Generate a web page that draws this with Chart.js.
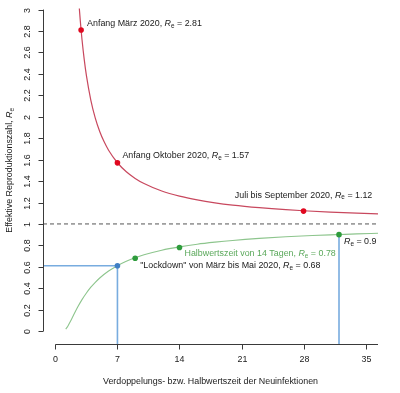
<!DOCTYPE html>
<html><head><meta charset="utf-8">
<script src="https://cdn.jsdelivr.net/npm/chart.js@4"></script>
<style>html,body{margin:0;padding:0;background:#fff}#wrap{width:400px;height:393px}</style>
</head><body><div id="wrap"><canvas id="c" width="400" height="393"></canvas></div>
<script>
// Doubling time (days) and effective reproduction number, red curve
const redT = [2.7, 2.8, 2.9, 3, 3.25, 3.5, 4, 4.5, 5, 5.5, 6, 7, 8, 9, 10, 12, 14, 16, 18, 20, 23, 26, 28, 31, 34, 36.4];
const redR = [3.01, 2.904, 2.808, 2.721, 2.535, 2.383, 2.154, 1.988, 1.863, 1.766, 1.688, 1.571, 1.487, 1.425, 1.377, 1.307, 1.259, 1.224, 1.197, 1.176, 1.152, 1.133, 1.123, 1.111, 1.101, 1.094];
// Half-life (days) and effective reproduction number, green curve
const greenT = [1.17, 1.4, 1.7, 2, 2.5, 3, 3.5, 4, 4.5, 5, 6, 7, 8, 9, 10, 12, 14, 16, 18, 20, 23, 26, 29, 32, 34, 36.4];
const greenR = [0.019, 0.046, 0.092, 0.141, 0.222, 0.294, 0.356, 0.410, 0.456, 0.496, 0.561, 0.611, 0.652, 0.685, 0.712, 0.755, 0.786, 0.811, 0.830, 0.846, 0.865, 0.880, 0.892, 0.901, 0.907, 0.913];
// Highlighted points
const redPtT = [2.9, 7, 28];
const redPtR = [2.81, 1.57, 1.12];
const greenPtT = [9, 14, 32];
const greenPtR = [0.68, 0.78, 0.9];
const bluePtT = [7];
const bluePtR = [0.61];
// Tick labels
const xTicks = [0, 7, 14, 21, 28, 35];
const yTicks = ["0", "0.2", "0.4", "0.6", "0.8", "1", "1.2", "1.4", "1.6", "1.8", "2", "2.2", "2.4", "2.6", "2.8", "3"];
// Texts
const xTitle = "Verdoppelungs- bzw. Halbwertszeit der Neuinfektionen";
const yTitlePre = "Effektive Reproduktionszahl, ";
const redLabels = ["Anfang März 2020, ", "Anfang Oktober 2020, ", "Juli bis September 2020, "];
const redLabelVals = ["2.81", "1.57", "1.12"];
const greenLabelText = "Halbwertszeit von 14 Tagen, ";
const greenLabelVal = "0.78";
const lockdownText = "\"Lockdown\" von März bis Mai 2020, ";
const lockdownVal = "0.68";
const endLabelVal = "0.9";

const XMIN = -1.4, XMAX = 36.4, YMIN = -0.12, YMAX = 3.052;
const FONT = "'Liberation Sans', Arial, sans-serif";
const FS = 8.9;

const pts = (xs, ys) => xs.map((x, i) => ({x, y: ys[i]}));

function rich(ctx, parts, x, y, align, color) {
  const fontFor = p => p.s === 'i' ? `italic ${FS}px ${FONT}` : p.s === 'sub' ? `${FS*0.72}px ${FONT}` : `${FS}px ${FONT}`;
  let w = 0;
  parts.forEach(p => { ctx.font = fontFor(p); w += ctx.measureText(p.t).width; });
  let cx = align === 'center' ? x - w/2 : align === 'right' ? x - w : x;
  ctx.fillStyle = color; ctx.textBaseline = 'middle'; ctx.textAlign = 'left';
  parts.forEach(p => {
    ctx.font = fontFor(p);
    ctx.fillText(p.t, cx, p.s === 'sub' ? y + FS*0.28 : y);
    cx += ctx.measureText(p.t).width;
  });
}
const Re = (pre, val) => [{t: pre, s: 'n'}, {t: 'R', s: 'i'}, {t: 'e', s: 'sub'}, {t: ' = ' + val, s: 'n'}];

const deco = {
  id: 'deco',
  afterDraw(chart) {
    const ctx = chart.ctx, xs = chart.scales.x, ys = chart.scales.y;
    const X = v => xs.getPixelForValue(v), Y = v => ys.getPixelForValue(v);
    const axCol = '#3a3a3a', txt = '#1a1a1a';
    ctx.save();
    ctx.strokeStyle = axCol; ctx.lineWidth = 1;
    // y axis
    const ax = Math.round(X(XMIN)) + 0.5;
    ctx.beginPath(); ctx.moveTo(ax, Y(0)); ctx.lineTo(ax, Y(3)); ctx.stroke();
    yTicks.forEach(t => {
      const py = Math.round(Y(parseFloat(t))) + 0.5;
      ctx.beginPath(); ctx.moveTo(ax, py); ctx.lineTo(ax - 5, py); ctx.stroke();
      ctx.save(); ctx.translate(28, py); ctx.rotate(-Math.PI/2);
      ctx.font = `${FS}px ${FONT}`; ctx.fillStyle = txt; ctx.textAlign = 'center'; ctx.textBaseline = 'middle';
      ctx.fillText(t, 0, 0); ctx.restore();
    });
    // x axis
    const ay = Math.round(Y(YMIN)) + 0.5;
    ctx.beginPath(); ctx.moveTo(X(0), ay); ctx.lineTo(X(XMAX), ay); ctx.stroke();
    xTicks.forEach(t => {
      const px = Math.round(X(t)) + 0.5;
      ctx.beginPath(); ctx.moveTo(px, ay); ctx.lineTo(px, ay + 5); ctx.stroke();
      ctx.font = `${FS}px ${FONT}`; ctx.fillStyle = txt; ctx.textAlign = 'center'; ctx.textBaseline = 'middle';
      ctx.fillText(String(t), px, 360);
    });
    // titles
    ctx.font = `${FS}px ${FONT}`; ctx.fillStyle = txt; ctx.textAlign = 'center'; ctx.textBaseline = 'middle';
    ctx.fillText(xTitle, (X(XMIN) + X(XMAX))/2, 382);
    ctx.save(); ctx.translate(10, (Y(0) + Y(3))/2); ctx.rotate(-Math.PI/2);
    rich(ctx, [{t: yTitlePre, s: 'n'}, {t: 'R', s: 'i'}, {t: 'e', s: 'sub'}], 0, 0, 'center', txt);
    ctx.restore();
    // annotations
    rich(ctx, Re(redLabels[0], redLabelVals[0]), X(redPtT[0]) + 6, Y(redPtR[0]) - 6, 'left', txt);
    rich(ctx, Re(redLabels[1], redLabelVals[1]), X(redPtT[1]) + 5, Y(redPtR[1]) - 7, 'left', txt);
    rich(ctx, Re(redLabels[2], redLabelVals[2]), X(redPtT[2]), Y(redPtR[2]) - 16, 'center', txt);
    rich(ctx, Re(greenLabelText, greenLabelVal), X(greenPtT[1]) + 5, Y(greenPtR[1]) + 6, 'left', '#5aa85a');
    rich(ctx, Re(lockdownText, lockdownVal), X(greenPtT[0]) + 5, Y(greenPtR[0]) + 7, 'left', txt);
    rich(ctx, [{t: 'R', s: 'i'}, {t: 'e', s: 'sub'}, {t: ' = ' + endLabelVal, s: 'n'}], X(greenPtT[2]) + 5, Y(greenPtR[2]) + 7, 'left', txt);
    ctx.restore();
  }
};

const lineDs = (data, color, width, extra) => Object.assign({type: 'line', data, borderColor: color, borderWidth: width, pointRadius: 0, fill: false, tension: 0}, extra || {});
const ptDs = (data, color) => ({type: 'scatter', data, backgroundColor: color, borderColor: color, pointRadius: 2.8, pointBorderWidth: 0});

new Chart(document.getElementById('c'), {
  data: {
    datasets: [
      ptDs(pts(bluePtT, bluePtR), '#3f7fc4'),
      ptDs(pts(redPtT, redPtR), '#e0081f'),
      ptDs(pts(greenPtT, greenPtR), '#2e9c3c'),
      lineDs(pts(redT, redR), '#c8485e', 1.2, {cubicInterpolationMode: 'monotone'}),
      lineDs(pts(greenT, greenR), '#8dc58d', 1.1, {cubicInterpolationMode: 'monotone'}),
      lineDs([{x: XMIN, y: bluePtR[0]}, {x: bluePtT[0], y: bluePtR[0]}, {x: bluePtT[0], y: YMIN}], '#78acdf', 1.6),
      lineDs([{x: greenPtT[2], y: greenPtR[2]}, {x: greenPtT[2], y: YMIN}], '#78acdf', 1.6),
      lineDs([{x: XMIN, y: 1}, {x: XMAX, y: 1}], '#555555', 1, {borderDash: [4, 3]})
    ]
  },
  options: {
    responsive: false, animation: false, devicePixelRatio: 1,
    layout: {padding: {left: 43, right: 22, top: 0, bottom: 49}},
    plugins: {legend: {display: false}, tooltip: {enabled: false}},
    scales: {
      x: {type: 'linear', min: XMIN, max: XMAX, display: false},
      y: {type: 'linear', min: YMIN, max: YMAX, display: false}
    }
  },
  plugins: [deco]
});
</script>
</body></html>
